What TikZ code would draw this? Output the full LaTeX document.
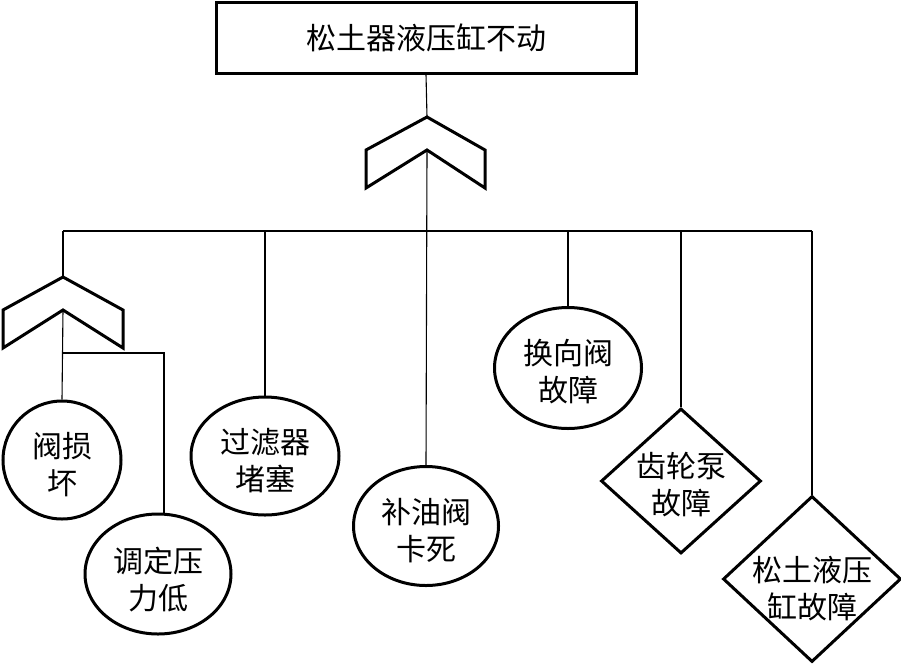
\documentclass[tikz,border=0pt]{standalone}
\usepackage{fontspec}
\newfontfamily\cjk{Noto Sans CJK SC}
\usetikzlibrary{shapes.geometric}
\begin{document}
\begin{tikzpicture}[x=1pt,y=-1pt,
  conn/.style={line width=1.1pt},
  thick outline/.style={draw, line width=3pt},
  txt/.style={align=center, font=\cjk\fontsize{30}{37}\selectfont},
  rectbox/.style={thick outline, rectangle, inner sep=0pt, minimum width=420pt, minimum height=71pt, txt},
  ebox/.style={thick outline, ellipse, inner sep=0pt},
  dbox/.style={thick outline, diamond, inner sep=0pt},
  gateshape/.style={line width=3pt, line join=miter}]
\useasboundingbox (0,0) rectangle (901,664);

% top event
\node[rectbox] (top) at (426,37.5) {松土器液压缸不动};

% gates
\coordinate (g1) at (427,117);
\coordinate (g1in) at (427,150);
\draw[gateshape] (g1) -- ++(-61,33) -- ++(0,38) -- (g1in) -- ++(58,38) -- ++(0,-38) -- cycle;
\coordinate (g2) at (63,277);
\coordinate (g2in) at (63,310);
\draw[gateshape] (g2) -- ++(-60,33) -- ++(0,38) -- (g2in) -- ++(60,38) -- ++(0,-38) -- cycle;

% events
\node[ebox, minimum width=118pt, minimum height=118pt,
  label={[txt,yshift=-5pt]center:{阀损\\坏}}] (e1) at (62,460) {};
\node[ebox, minimum width=146pt, minimum height=120pt,
  label={[txt,yshift=-6pt]center:{调定压\\力低}}] (e2) at (158,574) {};
\node[ebox, minimum width=148pt, minimum height=118pt,
  label={[txt,yshift=-5pt]center:{过滤器\\堵塞}}] (e3) at (265,456) {};
\node[ebox, minimum width=145pt, minimum height=119pt,
  label={[txt,yshift=-5pt]center:{补油阀\\卡死}}] (e4) at (426,526) {};
\node[ebox, minimum width=147pt, minimum height=121pt,
  label={[txt,yshift=-4pt]center:{换向阀\\故障}}] (e5) at (568,368) {};
\node[dbox, minimum width=160pt, minimum height=145pt,
  label={[txt,yshift=-4pt]center:{齿轮泵\\故障}}] (d1) at (681,481) {};
\node[dbox, minimum width=178pt, minimum height=166pt,
  label={[txt,yshift=-10pt]center:{松土液压\\缸故障}}] (d2) at (812,579) {};

% connectors
\coordinate (bl) at (63,231);
\coordinate (br) at (812,231);
\draw[conn] (top.south) -- (g1);
\draw[conn] (bl) -- (br);
\draw[conn] (g1in) -- (e4.north);
\draw[conn] (bl) -- (g2);
\draw[conn] (e3.north |- bl) -- (e3.north);
\draw[conn] (e5.north |- bl) -- (e5.north);
\draw[conn] (d1.north |- bl) -- (d1.north);
\draw[conn] (br) -- (d2.north);
\draw[conn] (g2in) -- (e1.north);
\coordinate (b2) at (164,353);
\draw[conn] (g2in |- b2) -- (b2) -- (164,515);
\end{tikzpicture}
\end{document}
